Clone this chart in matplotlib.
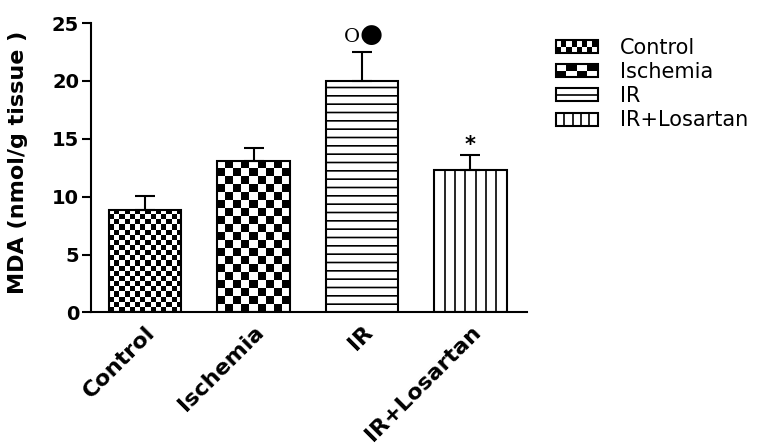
import matplotlib
matplotlib.use("Agg")
import matplotlib.pyplot as plt
import numpy as np
from matplotlib.legend_handler import HandlerBase
from matplotlib.lines import Line2D
from matplotlib.patches import Patch, Rectangle

groups = ["Control", "Ischemia", "IR", "IR+Losartan"]
mda_mean = [8.85, 13.1, 20.0, 12.3]
mda_sem = [1.2, 1.1, 2.5, 1.3]
marks = ["", "", "O\u25cf", "*"]

plt.rcParams["font.family"] = ["DejaVu Sans"]
plt.rcParams["hatch.linewidth"] = 1.2


class CheckerHandler(HandlerBase):
    """Legend key drawn as a small checkerboard."""

    def __init__(self, nx, ny):
        super().__init__()
        self.nx, self.ny = nx, ny

    def create_artists(self, legend, orig_handle, xdescent, ydescent,
                       width, height, fontsize, trans):
        cw, ch = width / self.nx, height / self.ny
        arts = []
        for i in range(self.nx):
            for j in range(self.ny):
                if (i + j) % 2 == 0:
                    arts.append(Rectangle((-xdescent + i * cw, -ydescent + j * ch), cw, ch,
                                          facecolor="black", edgecolor="none", transform=trans))
        arts.append(Rectangle((-xdescent, -ydescent), width, height, facecolor="none",
                              edgecolor="black", linewidth=1.5, transform=trans))
        return arts


class StripeHandler(HandlerBase):
    """Legend key with n evenly spaced inner lines."""

    def __init__(self, n, vertical):
        super().__init__()
        self.n, self.vertical = n, vertical

    def create_artists(self, legend, orig_handle, xdescent, ydescent,
                       width, height, fontsize, trans):
        x0, y0 = -xdescent, -ydescent
        arts = [Rectangle((x0, y0), width, height, facecolor="white",
                          edgecolor="black", linewidth=1.5, transform=trans)]
        for k in range(1, self.n + 1):
            if self.vertical:
                xx = x0 + width * k / (self.n + 1)
                arts.append(Line2D([xx, xx], [y0, y0 + height], color="black", lw=1.2, transform=trans))
            else:
                yy = y0 + height * k / (self.n + 1)
                arts.append(Line2D([x0, x0 + width], [yy, yy], color="black", lw=1.2, transform=trans))
        return arts


fig = plt.figure(figsize=(7.58, 4.45), dpi=100)
ax = fig.add_axes([0.120, 0.298, 0.575, 0.650])
ax.set_xlim(-0.5, 3.52)
ax.set_ylim(0, 25)

x = np.arange(len(groups))
width = 0.667
bars = ax.bar(x, mda_mean, width, color="white", edgecolor="black", linewidth=1.5, zorder=2)


def checker_fill(bar, cell_px):
    x0, y0 = bar.get_x(), bar.get_y()
    w, h = bar.get_width(), bar.get_height()
    (px0, py0), (px1, py1) = ax.transData.transform([(x0, y0), (x0 + w, y0 + h)])
    nx = max(1, round((px1 - px0) / cell_px))
    ny = max(1, round((py1 - py0) / cell_px))
    board = np.indices((ny, nx)).sum(axis=0) % 2
    im = ax.imshow(board, cmap="gray_r", extent=(x0, x0 + w, y0, y0 + h),
                   aspect="auto", interpolation="nearest", zorder=1.9)
    im.set_clip_path(bar)
    bar.set_facecolor("none")


checker_fill(bars[0], 5)
checker_fill(bars[1], 8)
bars[2].set_hatch("--")
b = bars[3]
xs = np.linspace(b.get_x(), b.get_x() + b.get_width(), 8)[1:-1]
ax.vlines(xs, 0, b.get_height(), color="black", linewidth=1.2, zorder=2.2)

ax.set_xlim(-0.5, 3.52)
ax.set_ylim(0, 25)

ax.errorbar(x, mda_mean, yerr=[np.zeros(len(x)), mda_sem], fmt="none", ecolor="black",
            elinewidth=1.5, capsize=7, capthick=1.5, zorder=3)

# significance marks above the error bars
for xi, m, s, t in zip(x, mda_mean, mda_sem, marks):
    top = m + s
    if t == "*":
        ax.annotate(t, (xi, top), xytext=(0, 0), textcoords="offset points",
                    ha="center", va="bottom", fontsize=15, fontweight="bold")
    elif t:
        ax.annotate(t[0], (xi, top), xytext=(-7, 11), textcoords="offset points",
                    ha="center", va="center", fontsize=14, family="DejaVu Serif")
        ax.annotate(t[1], (xi, top), xytext=(6.5, 12), textcoords="offset points",
                    ha="center", va="center", fontsize=19)

for side in ("top", "right"):
    ax.spines[side].set_visible(False)
for side in ("left", "bottom"):
    ax.spines[side].set_linewidth(1.5)

ax.set_yticks([0, 5, 10, 15, 20, 25])
ax.tick_params(axis="y", length=6.5, width=1.5, labelsize=14, pad=2)
for lab in ax.get_yticklabels():
    lab.set_fontweight("bold")
ax.set_xticks(x, groups, rotation=45, ha="right", rotation_mode="anchor",
              fontweight="bold", fontsize=16)
ax.tick_params(axis="x", length=0, pad=7)
ax.set_ylabel("MDA (nmol/g tissue )", fontsize=16, fontweight="bold")
ax.yaxis.set_label_coords(-0.145, 0.52)

handles = [Patch(facecolor="white", edgecolor="black") for _ in groups]
fig.legend(handles, groups, loc="upper left", bbox_to_anchor=(556 / 758, 1 - 38 / 445),
           frameon=False, fontsize=15, handlelength=2.0, handleheight=0.58,
           labelspacing=0.2, handletextpad=1.05, borderaxespad=0, borderpad=0,
           handler_map={handles[0]: CheckerHandler(8, 2), handles[1]: CheckerHandler(4, 2),
                        handles[2]: StripeHandler(1, False), handles[3]: StripeHandler(4, True)})

fig.savefig("out.png", dpi=100)
